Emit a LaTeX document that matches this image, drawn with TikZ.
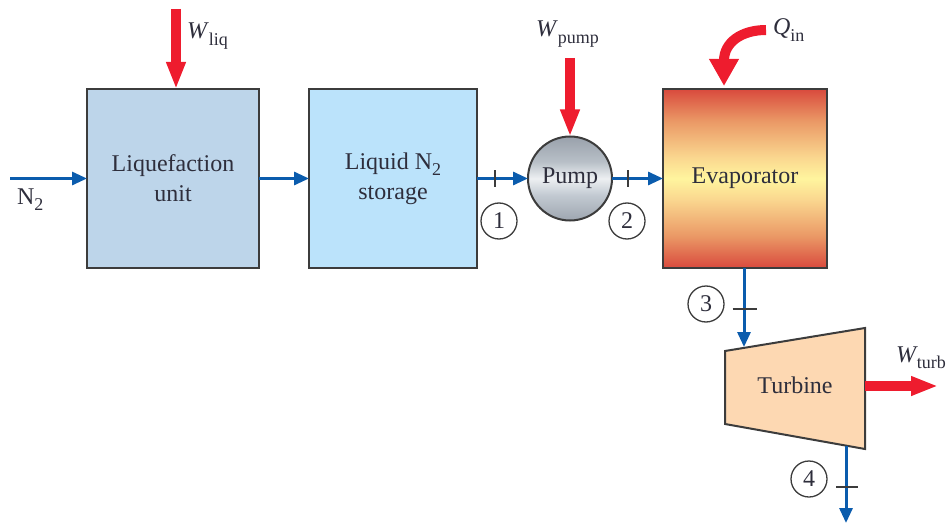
\documentclass[tikz,border=0pt]{standalone}
\usepackage{fontspec}
\setmainfont{Liberation Serif}
\usetikzlibrary{arrows.meta}
\definecolor{flowblue}{HTML}{0B5CAD}
\definecolor{heatred}{HTML}{EE1C2E}
\definecolor{edgegray}{HTML}{3C3C3C}
\definecolor{labelink}{HTML}{2E2E3C}
\definecolor{liqfill}{HTML}{BDD5EA}
\definecolor{storefill}{HTML}{BBE3FB}
\definecolor{turbfill}{HTML}{FDD8B2}
\pgfdeclareverticalshading{evapshade}{100bp}{
  rgb(0bp)=(0.85,0.29,0.24);
  rgb(25bp)=(0.85,0.29,0.24);
  rgb(34bp)=(0.92,0.60,0.40);
  rgb(44bp)=(0.98,0.84,0.56);
  rgb(50bp)=(1.0,0.96,0.62);
  rgb(56bp)=(0.98,0.84,0.56);
  rgb(66bp)=(0.92,0.60,0.40);
  rgb(75bp)=(0.85,0.29,0.24);
  rgb(100bp)=(0.85,0.29,0.24)}
\pgfdeclareverticalshading{pumpshade}{100bp}{
  rgb(0bp)=(0.62,0.65,0.69);
  rgb(25bp)=(0.62,0.65,0.69);
  rgb(40bp)=(0.76,0.79,0.82);
  rgb(50bp)=(0.93,0.94,0.95);
  rgb(60bp)=(0.72,0.75,0.78);
  rgb(75bp)=(0.60,0.63,0.67);
  rgb(100bp)=(0.60,0.63,0.67)}
\newcommand{\lowsub}[1]{\raisebox{-0.28em}{\fontsize{18}{18}\selectfont #1}}
\tikzset{
  x=1pt,y=-1pt,
  every node/.style={text=labelink,font=\fontsize{24}{30}\selectfont,inner sep=0pt,outer sep=0pt},
  unitbox/.style={draw=edgegray,line width=2pt,align=center,minimum height=179pt},
  flow/.style={draw=flowblue,line width=3pt,-{Triangle[length=15pt,width=13pt]}},
  powerflow/.style={draw=heatred,line width=9.5pt,-{Triangle[length=27pt,width=18pt]}},
  tickmark/.style={draw=edgegray,line width=1.3pt},
  statecircle/.style={circle,draw=edgegray,line width=1.3pt,minimum size=36pt}
}
\begin{document}
\begin{tikzpicture}
\useasboundingbox (0,0) rectangle (947,524);
% units
\node[unitbox,fill=liqfill,minimum width=172pt] (liq) at (173,178.5) {Liquefaction\\unit};
\node[unitbox,fill=storefill,minimum width=168pt] (store) at (393,178.5) {Liquid N\lowsub{2}\\storage};
\node[unitbox,shading=evapshade,minimum width=164pt] (evap) at (745,178.5) {\raisebox{-1.5pt}{Evaporator}};
\node[circle,draw=edgegray,line width=2pt,shading=pumpshade,minimum size=84pt] (pump) at (570,178.5) {\raisebox{-1.5pt}{Pump}};
% turbine outline
\coordinate (tul) at (725,351);
\coordinate (tur) at (865,328);
\coordinate (tlr) at (865,449);
\coordinate (tll) at (725,424);
\draw[line width=2pt,draw=edgegray,fill=turbfill,line join=miter] (tul) -- (tur) -- (tlr) -- (tll) -- cycle;
\node (turb) at (795,385) {Turbine};
% free ends
\coordinate (n2in) at (10,178.5);
\coordinate (wliqtop) at (176,9);
\coordinate (wpumptop) at (570,58);
\coordinate (qstart) at (766,30);
\coordinate (qend) at (724,86);
\coordinate (wturbstart) at (865,386);
\coordinate (wturbend) at (938,386);
\coordinate (turbin) at (744,347);
\coordinate (turbout) at (846,446);
\coordinate (outend) at (846,523);
% blue flows
\draw[flow] (n2in) -- (liq.west);
\draw[flow] (liq.east) -- (store.west);
\draw[flow] (store.east) -- (pump.west);
\draw[flow] (pump.east) -- (evap.west);
\draw[flow] (evap.south -| turbin) -- (turbin);
\draw[flow] (turbout) -- (outend);
% red flows
\draw[powerflow] (wliqtop) -- (wliqtop |- liq.north);
\draw[powerflow] (wpumptop) -- (pump.north);
\draw[powerflow] (wturbstart) -- (wturbend);
\draw[draw=heatred,line width=10pt,-{Triangle[length=27pt,width=28pt]}] (qstart) .. controls (742,30) and (724,42) .. (qend);
% ticks
\coordinate (t1) at (495,178.5);
\coordinate (t2) at (628,178.5);
\coordinate (t3) at (744.5,309);
\coordinate (t4) at (847,487);
\draw[tickmark] ([yshift=8.5pt]t1) -- ([yshift=-8.5pt]t1);
\draw[tickmark] ([yshift=8.5pt]t2) -- ([yshift=-8.5pt]t2);
\draw[tickmark] ([xshift=-12pt]t3) -- ([xshift=12pt]t3);
\draw[tickmark] ([xshift=-11pt]t4) -- ([xshift=11pt]t4);
% state circles
\node[statecircle] (s1) at (499,221) {1};
\node[statecircle] (s2) at (627,221) {2};
\node[statecircle] (s3) at (706,304) {3};
\node[statecircle] (s4) at (809,479) {4};
% labels
\node[anchor=base west] (lwliq) at (187,39) {\textit{W}\lowsub{liq}};
\node[anchor=base west] (lwpump) at (536,37) {\textit{W}\lowsub{pump}};
\node[anchor=base west] (lqin) at (773,35) {\textit{Q}\lowsub{in}};
\node[anchor=base west] (lwturb) at (896,362) {\textit{W}\kern-1pt\lowsub{turb}};
\node[anchor=base west] (ln2) at (17,204) {N\lowsub{2}};
\end{tikzpicture}
\end{document}
